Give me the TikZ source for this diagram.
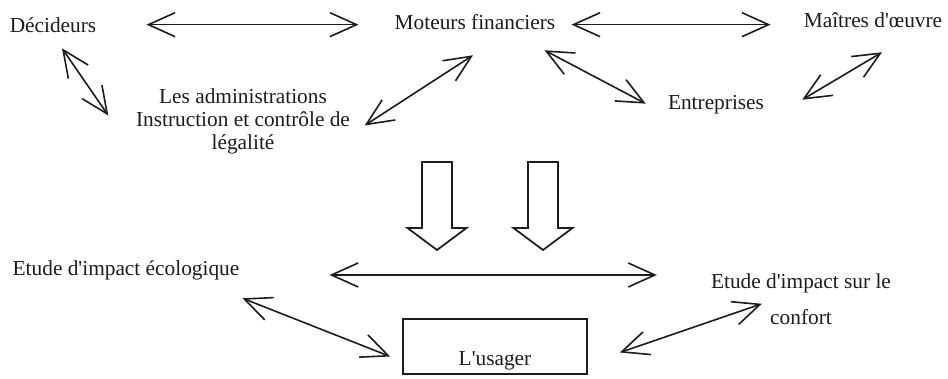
\documentclass[tikz,border=0pt]{standalone}
\usepackage{fontspec}
\setmainfont{Liberation Serif}
\usepackage{tikz}
\usetikzlibrary{arrows.meta,calc}
\definecolor{ink}{HTML}{1C1C1C}
\newcommand{\apos}{\textquotesingle}
\tikzset{
  barb/.tip={Straight Barb[length=20pt,width=18pt,line width=1.2pt]},
  link/.style={barb-barb,line width=1.2pt,draw=ink},
  actor/.style={inner sep=0pt,text height=11pt,text depth=3pt,anchor=base,
                font=\fontsize{16}{19}\selectfont,text=ink},
  multi/.style={inner sep=0pt,align=center,anchor=north,text=ink},
  userbox/.style={draw=ink,line width=1.3pt,minimum width=138pt,inner xsep=0pt,
                  inner ysep=3.75pt,text height=30.75pt,text depth=3pt,anchor=base,
                  font=\fontsize{16}{19}\selectfont,text=ink},
  bigarrow/.style={draw=ink,line width=1.3pt,fill=white,line join=miter}
}
\begin{document}
\begin{tikzpicture}[x=0.75pt,y=-0.75pt]
  \useasboundingbox (0,0) rectangle (948,378);
  % top row
  \node[actor] (dec) at (53,33) {Décideurs};
  \node[actor] (mot) at (475,30) {Moteurs financiers};
  \node[actor] (mai) at (873,28) {Maîtres d\apos œuvre};
  \node[multi,font=\fontsize{16}{17.25}\selectfont] (adm) at (243,88)
    {Les administrations\\Instruction et contrôle de\\légalité};
  \node[actor] (ent) at (716,109) {Entreprises};
  % bottom row
  \node[actor] (eco) at (126,275) {Etude d\apos impact écologique};
  \node[multi,font=\fontsize{16}{27}\selectfont] (con) at (801,273)
    {Etude d\apos impact sur le\\confort};
  \node[userbox] (usr) at (495,365) {L\apos usager};
  % links
  \draw[link] ($(dec.east)+(50,-3)$) -- ($(mot.west)+(-36,0)$);
  \draw[link] ($(mot.east)+(16,0)$) -- ($(mai.west)+(-33,2)$);
  \draw[link] ($(dec.south)+(9,11)$) -- ($(adm.west)+(-27.5,-5.5)$);
  \draw[link] ($(adm.east)+(14.5,4.5)$) -- ($(mot.south)+(-2,21)$);
  \draw[link] ($(mot.south east)+(-11,16)$) -- ($(ent.west)+(-22,0)$);
  \draw[link] ($(mai.south)+(9,20)$) -- ($(ent.east)+(38,-4)$);
  \draw[link] ($(eco.east)+(90,5.3)$) -- ($(con.north west)+(-54,2)$);
  \draw[link] ($(eco.south east)+(3,19)$) -- ($(usr.west)+(-12,10)$);
  \draw[link] ($(usr.east)+(32,6)$) -- ($(con.west)+(51,5)$);
  % hollow down arrows
  \foreach \x in {437,543}{
    \draw[bigarrow] (\x-15,162) -- (\x+15,162) -- (\x+15,228) -- (\x+29.5,228)
      -- (\x,250) -- (\x-29.5,228) -- (\x-15,228) -- cycle;
  }
\end{tikzpicture}
\end{document}
